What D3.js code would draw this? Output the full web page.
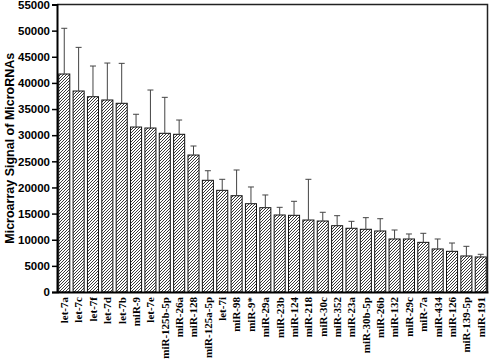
<!DOCTYPE html>
<html>
<head>
<meta charset="utf-8">
<script src="https://cdn.jsdelivr.net/npm/d3@7"></script>
<style>
  body { margin: 0; background: #fff; }
  svg { display: block; }
</style>
</head>
<body>
<svg id="chart" width="489" height="359"></svg>
<script>
const names = ['let-7a', 'let-7c', 'let-7f', 'let-7d', 'let-7b', 'miR-9', 'let-7e', 'miR-125b-5p',
    'miR-26a', 'miR-128', 'miR-125a-5p', 'let-7i', 'miR-98', 'miR-9*', 'miR-29a', 'miR-23b',
    'miR-124', 'miR-218', 'miR-30c', 'miR-352', 'miR-23a', 'miR-30b-5p', 'miR-26b', 'miR-132',
    'miR-29c', 'miR-7a', 'miR-434', 'miR-126', 'miR-139-5p', 'miR-191'];
const signal = [41700, 38450, 37360, 36730, 36100, 31560, 31370, 30360,
    30170, 26200, 21370, 19450, 18420, 16890, 16130, 14730,
    14670, 13770, 13580, 12680, 12190, 12000, 11670, 10140,
    10140, 9500, 8230, 7780, 6890, 6700];
const errTop = [50450, 46800, 43230, 43800, 43740, 34000, 38640, 37240,
    32900, 27930, 23200, 21560, 23340, 20090, 18560, 16200,
    17350, 21560, 15250, 14600, 13520, 14220, 14020, 11860,
    11100, 11230, 10140, 9370, 8740, 7210];
const yTicks = [0, 5000, 10000, 15000, 20000, 25000, 30000, 35000, 40000, 45000, 50000, 55000];

const plotLeft = 57, plotRight = 488, plotTop = 4.5, plotBottom = 292;

let svg = d3.select('#chart');

// diagonal hatch for the bars
let pattern = svg.append('defs').append('pattern')
    .attr('id', 'hatch')
    .attr('patternUnits', 'userSpaceOnUse')
    .attr('width', 3)
    .attr('height', 3);
pattern.append('rect').attr('width', 3).attr('height', 3).attr('fill', '#fff');
pattern.append('path')
    .attr('d', 'M-1,1 l2,-2 M0,3 l3,-3 M2,4 l2,-2')
    .attr('stroke', '#222')
    .attr('stroke-width', 0.9);

let x = d3.scaleBand().domain(names).range([plotLeft, plotRight]).paddingInner(0.23).paddingOuter(0.12);
let y = d3.scaleLinear().domain([0, 55000]).range([plotBottom, plotTop]);

// bars
svg.selectAll('rect.bar')
    .data(names)
    .enter().append('rect')
    .attr('class', 'bar')
    .attr('x', d => x(d))
    .attr('y', (d, i) => y(signal[i]))
    .attr('width', x.bandwidth())
    .attr('height', (d, i) => y(0) - y(signal[i]))
    .attr('fill', 'url(#hatch)')
    .attr('stroke', '#111')
    .attr('stroke-width', 1);

// error bars (upper only)
let err = svg.append('g').attr('stroke', '#444').attr('stroke-width', 1);
names.forEach((name, i) => {
    let cx = x(name) + x.bandwidth() / 2;
    err.append('line')
        .attr('x1', cx).attr('x2', cx)
        .attr('y1', y(signal[i])).attr('y2', y(errTop[i]));
    err.append('line')
        .attr('x1', cx - 3).attr('x2', cx + 3)
        .attr('y1', y(errTop[i])).attr('y2', y(errTop[i]));
});

// frame: top and right
svg.append('path')
    .attr('d', `M${plotLeft},${plotTop}H${plotRight - 0.5}V${plotBottom}`)
    .attr('fill', 'none')
    .attr('stroke', '#222')
    .attr('stroke-width', 1.5);

// y axis
let yAxis = svg.append('g')
    .attr('transform', `translate(${plotLeft},0)`)
    .call(d3.axisLeft(y).tickValues(yTicks).tickSize(5).tickPadding(2).tickFormat(d3.format('d')));
yAxis.select('.domain').attr('stroke', '#000').attr('stroke-width', 2);
yAxis.selectAll('.tick line').attr('stroke', '#000').attr('stroke-width', 1.5);
yAxis.selectAll('.tick text')
    .attr('font-family', 'Liberation Sans, Arial, sans-serif')
    .attr('font-weight', 'bold')
    .attr('font-size', 11.5)
    .attr('fill', '#000');

// x axis
let xAxis = svg.append('g')
    .attr('transform', `translate(0,${plotBottom})`)
    .call(d3.axisBottom(x).tickSize(0).tickPadding(5));
xAxis.select('.domain').attr('stroke', '#000').attr('stroke-width', 2);
xAxis.selectAll('.tick text')
    .attr('font-family', 'Liberation Serif, Times New Roman, serif')
    .attr('font-weight', 'bold')
    .attr('font-size', 11)
    .attr('fill', '#000')
    .attr('text-anchor', 'end')
    .attr('dy', '0.35em')
    .attr('transform', 'rotate(-90)')
    .attr('x', -5)
    .attr('y', 0);

// y axis title
svg.append('text')
    .attr('transform', `translate(14,${(plotTop + plotBottom) / 2}) rotate(-90)`)
    .attr('text-anchor', 'middle')
    .attr('font-family', 'Liberation Sans, Arial, sans-serif')
    .attr('font-weight', 'bold')
    .attr('font-size', 12.5)
    .text('Microarray Signal of MicroRNAs');
</script>
</body>
</html>
